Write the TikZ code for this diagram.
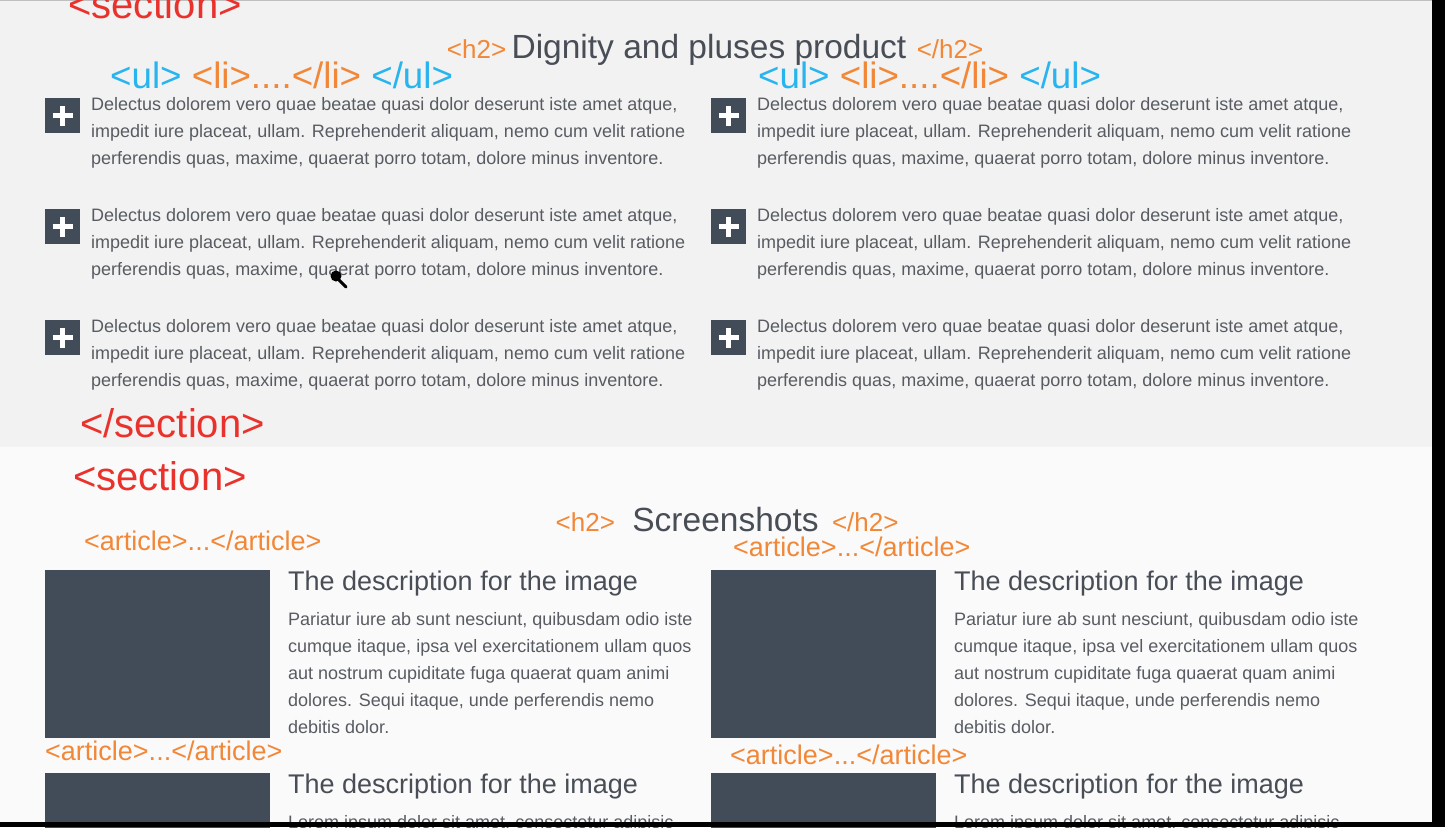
\documentclass[tikz,border=0pt]{standalone}
\usepackage{fontspec}
\setmainfont{Liberation Sans}
\usetikzlibrary{positioning}
\definecolor{tagred}{RGB}{234,50,45}
\definecolor{tagorange}{RGB}{241,135,55}
\definecolor{tagblue}{RGB}{40,180,238}
\definecolor{headgray}{RGB}{72,77,86}
\definecolor{bodygray}{RGB}{88,92,98}
\definecolor{boxgray}{RGB}{66,75,88}
\definecolor{bandtop}{RGB}{242,242,242}
\definecolor{bandlow}{RGB}{250,250,250}
\newcommand{\fsz}[2]{\fontsize{#1}{#2}\selectfont}
\newcommand{\delectus}{Delectus dolorem vero quae beatae quasi dolor deserunt iste amet atque,\\impedit iure placeat, ullam. Reprehenderit aliquam, nemo cum velit ratione\\perferendis quas, maxime, quaerat porro totam, dolore minus inventore.}
\newcommand{\pariatur}{Pariatur iure ab sunt nesciunt, quibusdam odio iste\\cumque itaque, ipsa vel exercitationem ullam quos\\aut nostrum cupiditate fuga quaerat quam animi\\dolores. Sequi itaque, unde perferendis nemo\\debitis dolor.}

\begin{document}
\begin{tikzpicture}[x=1pt,y=-1pt,
  sectag/.style={text=tagred,inner sep=0,font=\fsz{40}{48}},
  smalltag/.style={text=tagorange,inner sep=0,font=\fsz{26}{30}},
  arttag/.style={text=tagorange,inner sep=0,font=\fsz{27}{30}},
  htitle/.style={text=headgray,inner sep=0,font=\fsz{33.5}{40}},
  imgtitle/.style={text=headgray,inner sep=0,font=\fsz{27}{32}},
  bodytext/.style={text=bodygray,inner sep=0,align=left,font=\fsz{18}{27}},
  plusbox/.style={fill=boxgray,minimum size=35,inner sep=0,
    path picture={\draw[white,line width=4.5]
      ([xshift=-10]path picture bounding box.center) -- ([xshift=10]path picture bounding box.center)
      ([yshift=-10]path picture bounding box.center) -- ([yshift=10]path picture bounding box.center);}},
  imgbox/.style={fill=boxgray,inner sep=0,minimum width=225}]
\useasboundingbox (0,0) rectangle (1445,827);
\clip (0,0) rectangle (1445,827);
% page bands
\fill[bandtop] (0,0) rectangle (1445,447);
\fill[bandlow] (0,447) rectangle (1445,827);
\draw[black!25,line width=1.5] (0,0.5) -- (1432,0.5);

% first section
\node[sectag,anchor=base west] (sec1open) at (68,18) {<section>};
\node[htitle,anchor=base] (dignity) at (709,58) {Dignity and pluses product};
\node[smalltag,base left=5 of dignity] (h2aopen) {<h2>};
\node[smalltag,base right=10 of dignity] (h2aclose) {</h2>};
\foreach \col/\cx in {l/110,r/758}
  \node[inner sep=0,font=\fsz{36.7}{40},anchor=base west] (ul\col) at (\cx,88)
    {\color{tagblue}<ul> \color{tagorange}<li>....</li> \color{tagblue}</ul>};
\foreach \col/\cx in {l/45,r/711}
  \foreach \row/\ry in {1/98,2/209,3/320} {
    \node[plusbox,anchor=north west] (plus\col\row) at (\cx,\ry) {};
    \node[bodytext,anchor=north west] (item\col\row) at (\cx+46,\ry-1) {\delectus};
  }
\node[sectag,anchor=base west] (sec1close) at (80,437) {</section>};

% second section
\node[sectag,anchor=base west] (sec2open) at (73,490) {<section>};
\node[htitle,anchor=base] (shots) at (725.5,531) {Screenshots};
\node[smalltag,base left=17 of shots] (h2bopen) {<h2>};
\node[smalltag,base right=13 of shots] (h2bclose) {</h2>};
\node[arttag,anchor=base west] (artl1) at (84,550) {<article>...</article>};
\node[arttag,anchor=base west] (artr1) at (733,556) {<article>...</article>};
\node[arttag,anchor=base west] (artl2) at (45,760) {<article>...</article>};
\node[arttag,anchor=base west] (artr2) at (730,764) {<article>...</article>};
\foreach \col/\cx in {l/45,r/711} {
  \node[imgbox,minimum height=168,anchor=north west] (img\col1) at (\cx,570) {};
  \node[imgtitle,anchor=base west] (title\col1) at (\cx+243,590) {The description for the image};
  \node[bodytext,anchor=north west] (text\col1) at (\cx+243,612) {\pariatur};
  \node[imgbox,minimum height=80,anchor=north west] (img\col2) at (\cx,773) {};
  \node[imgtitle,anchor=base west] (title\col2) at (\cx+243,793) {The description for the image};
  \node[bodytext,anchor=base west] (text\col2) at (\cx+243,828) {Lorem ipsum dolor sit amet, consectetur adipisic-};
}

% cursor
\fill[black] (336,276) circle (5.5);
\draw[black,line width=3,line cap=round] (339,280) -- (346,287);

% screen edges
\fill[black] (1432,0) rectangle (1445,827);
\fill[black] (0,822) rectangle (1445,827);
\end{tikzpicture}
\end{document}
